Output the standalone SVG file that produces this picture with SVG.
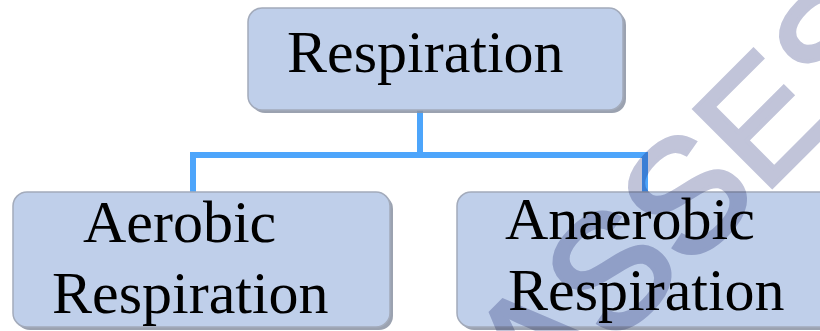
<svg xmlns="http://www.w3.org/2000/svg" width="820" height="331" viewBox="0 0 820 331">
<style>
.box{fill:#bfcfea;stroke:#a3abbb;stroke-width:1.5}
.shadow{fill:#8a92a2;opacity:0.85}
.lbl{font-family:"Liberation Serif","Times New Roman",serif;font-size:60px;fill:#000}
.conn{fill:none;stroke:#4da5fb;stroke-width:6;stroke-linejoin:miter}
.wm{font-family:"Liberation Sans",Arial,sans-serif;font-size:160px;fill:#c1c4d9;stroke:#c1c4d9;stroke-width:4;mix-blend-mode:multiply}
</style>
<rect width="820" height="331" fill="#fff"/>
<g id="connectors">
<path class="conn" d="M193,192 V155 H645 V192 M420,110 V155"/>
</g>
<g id="respiration">
<rect class="shadow" x="251" y="11" width="375" height="102" rx="14"/>
<rect class="box" x="248" y="8" width="375" height="102" rx="14"/>
<text class="lbl" x="287" y="72">Respiration</text>
</g>
<g id="aerobic">
<rect class="shadow" x="16" y="195" width="377" height="135" rx="14"/>
<rect class="box" x="13" y="192" width="377" height="135" rx="14"/>
<text class="lbl" x="83" y="242">Aerobic</text>
<text class="lbl" x="52" y="313">Respiration</text>
</g>
<g id="anaerobic">
<rect class="shadow" x="460" y="195" width="380" height="135" rx="14"/>
<rect class="box" x="457" y="192" width="380" height="135" rx="14"/>
<text class="lbl" x="505" y="239">Anaerobic</text>
<text class="lbl" x="508" y="310">Respiration</text>
</g>
<text class="wm" transform="translate(392,567) rotate(-45)">CLASSES</text>
</svg>
